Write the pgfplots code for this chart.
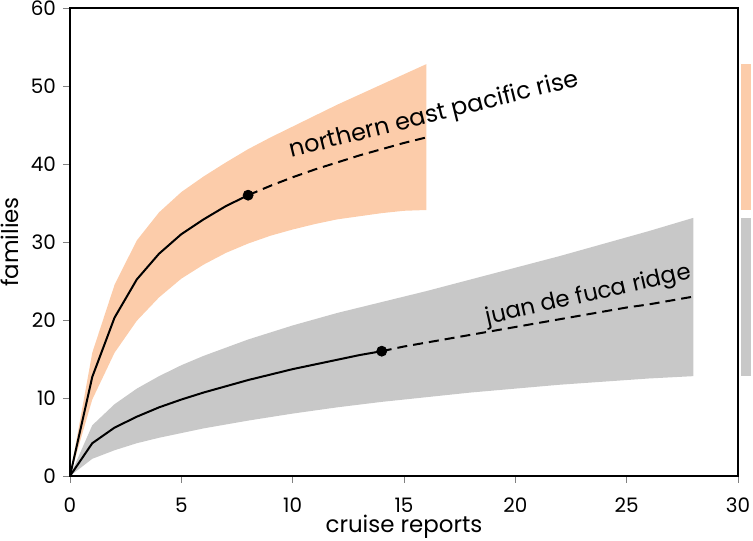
\documentclass[border=0pt]{standalone}
\usepackage{fontspec}
\setmainfont{Poppins}
\usepackage{pgfplots}
\pgfplotsset{compat=1.18}
\usepgfplotslibrary{fillbetween}
\definecolor{nepr}{RGB}{252,204,170}
\definecolor{jdf}{RGB}{200,200,200}

\begin{document}
\begin{tikzpicture}[font=\fontsize{10}{12}\selectfont]
\begin{axis}[
  width=334bp, height=234bp, scale only axis,
  xmin=0, xmax=30, ymin=0, ymax=60,
  xtick={0,5,...,30}, ytick={0,10,...,60},
  tick align=outside, xtick pos=bottom, ytick pos=left,
  major tick length=3.5bp,
  /pgf/number format/assume math mode=true,
  xticklabel style={yshift=-4bp},
  xlabel={cruise reports}, ylabel={families},
  label style={font=\fontsize{11.5}{13}\selectfont},
  xlabel style={yshift=5.5bp}, ylabel style={yshift=-1bp},
  axis line style={line width=0.6bp},
  clip=false,
]
% northern east pacific rise band
\addplot[name path=nu, draw=none] coordinates {(0,0)(1,15.8)(2,24.5)(3,30.2)(4,33.8)(5,36.4)(6,38.4)(7,40.2)(8,41.9)(9,43.4)(10,44.8)(11,46.2)(12,47.6)(13,48.9)(14,50.2)(15,51.5)(16,52.8)};
\addplot[name path=nl, draw=none] coordinates {(0,0)(1,9.8)(2,15.8)(3,19.9)(4,22.9)(5,25.3)(6,27.1)(7,28.6)(8,29.8)(9,30.8)(10,31.6)(11,32.3)(12,32.9)(13,33.3)(14,33.7)(15,34.0)(16,34.1)};
\addplot[nepr, draw=none] fill between[of=nu and nl];
% juan de fuca ridge band
\addplot[name path=ju, draw=none] coordinates {(0,0)(1,6.5)(2,9.2)(3,11.2)(4,12.8)(5,14.2)(6,15.4)(8,17.5)(10,19.3)(12,20.9)(14,22.3)(16,23.7)(18,25.2)(20,26.7)(22,28.2)(24,29.8)(26,31.4)(28,33.1)};
\addplot[name path=jl, draw=none] coordinates {(0,0)(1,2.2)(2,3.3)(3,4.2)(4,4.9)(5,5.5)(6,6.1)(8,7.1)(10,8.0)(12,8.8)(14,9.5)(16,10.1)(18,10.7)(20,11.2)(22,11.7)(24,12.1)(26,12.5)(28,12.8)};
\addplot[jdf, draw=none] fill between[of=ju and jl];
% side bars
\addplot[fill=nepr, draw=none] coordinates {(30.13,34.1)(30.58,34.1)(30.58,52.8)(30.13,52.8)} -- cycle;
\addplot[fill=jdf, draw=none] coordinates {(30.13,12.8)(30.58,12.8)(30.58,33.1)(30.13,33.1)} -- cycle;
% curves
\addplot[black, line width=1bp] coordinates {(0,0)(1,12.7)(2,20.3)(3,25.2)(4,28.5)(5,31)(6,32.9)(7,34.6)(8,36)};
\addplot[black, line width=1bp, dash pattern=on 5bp off 3bp] coordinates {(8,36)(9,37.2)(10,38.3)(11,39.3)(12,40.2)(13,41.1)(14,41.9)(15,42.7)(16,43.4)};
\addplot[black, line width=1bp] coordinates {(0,0)(1,4.2)(2,6.2)(3,7.6)(4,8.8)(5,9.8)(6,10.7)(7,11.5)(8,12.3)(9,13)(10,13.7)(11,14.3)(12,14.9)(13,15.5)(14,16)};
\addplot[black, line width=1bp, dash pattern=on 5bp off 3bp] coordinates {(14,16)(15,16.6)(16,17.1)(17,17.6)(18,18.1)(19,18.6)(20,19.1)(21,19.6)(22,20.1)(23,20.6)(24,21.1)(25,21.6)(26,22.0)(27,22.5)(28,23.0)};
\addplot[only marks, mark=*, mark size=2.5bp, black] coordinates {(8,36)(14,16)};
\node[anchor=south west, rotate=14, inner sep=0pt, font=\fontsize{12}{14}\selectfont] at (axis cs:10,40.0) {northern east pacific rise};
\node[anchor=south west, rotate=12.7, inner sep=0pt, font=\fontsize{11.5}{13}\selectfont] at (axis cs:18.8,18.6) {juan de fuca ridge};
\end{axis}
\pgfresetboundingbox
\path[use as bounding box] ([shift={(-35bp,-32.5bp)}]current axis.south west) rectangle ([shift={(7.5bp,4bp)}]current axis.north east);
\end{tikzpicture}
\end{document}
